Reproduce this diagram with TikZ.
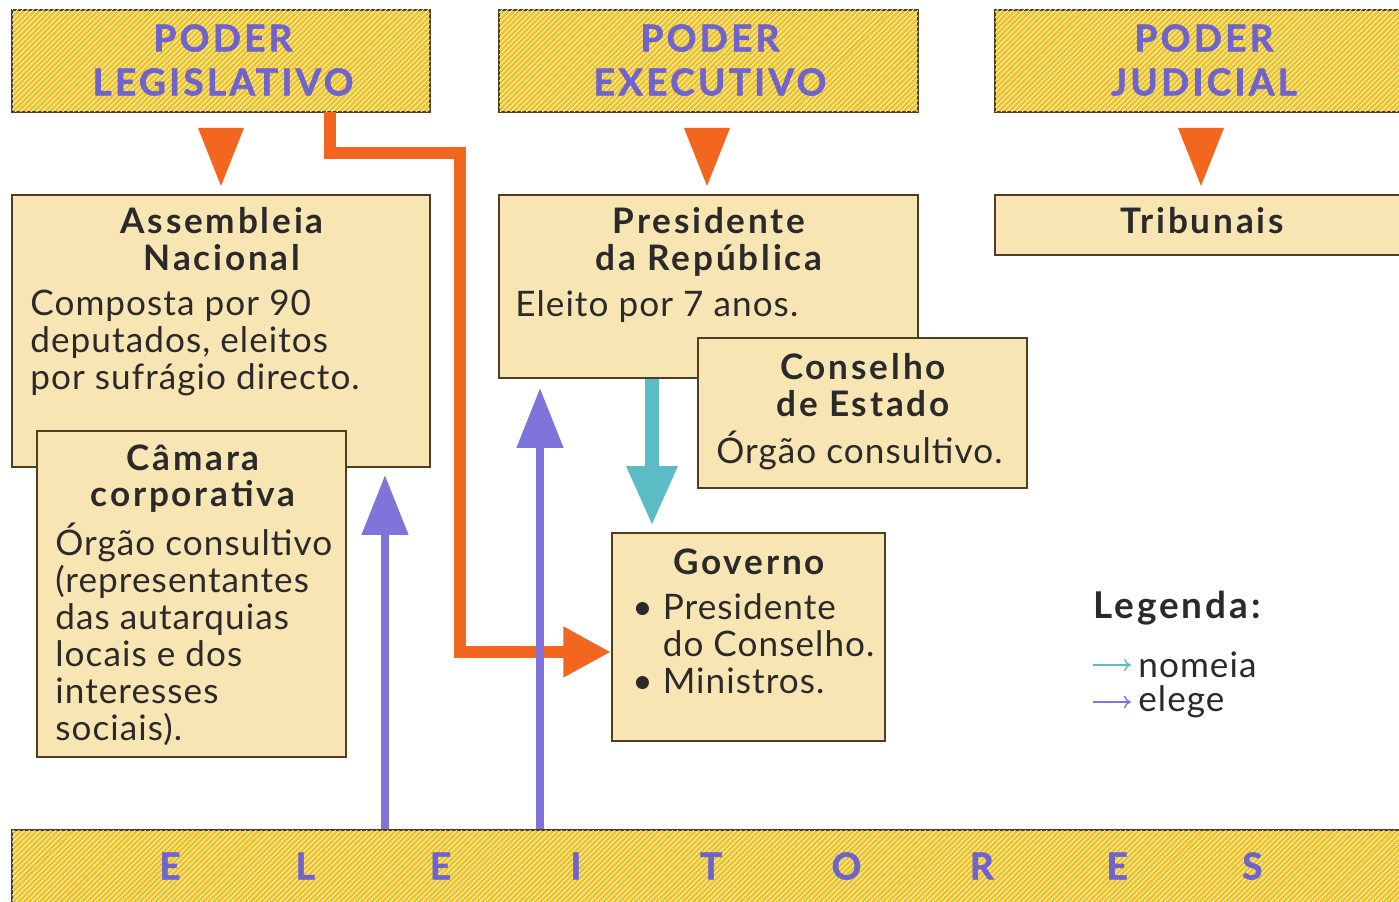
\documentclass[tikz,border=0pt]{standalone}
\usepackage{fontspec}
\setmainfont{Lato}
\newfontfamily\hdrfont[LetterSpace=9,BoldFeatures={FakeBold=1.6}]{Lato}
\newfontfamily\ttlfont[LetterSpace=8]{Lato}
\newfontfamily\bodfont[LetterSpace=3]{Lato}
\usetikzlibrary{arrows.meta,calc,fit,patterns}
\definecolor{hdrYellow}{HTML}{F3C220}
\definecolor{boxBeige}{HTML}{F8E5B4}
\definecolor{boxLine}{HTML}{4E3F22}
\definecolor{nomOrange}{HTML}{F2661F}
\definecolor{elePurple}{HTML}{7F74DA}
\definecolor{txtPurple}{HTML}{6F63CE}
\definecolor{nomTeal}{HTML}{5CBCC6}
\definecolor{txtDark}{HTML}{2A2A2A}
\tikzset{hdr/.style={draw=boxLine,line width=1.3pt,fill=hdrYellow,inner sep=0pt,
    postaction={pattern=north east lines,pattern color=white,fill opacity=0.18}}}
\tikzset{box/.style={draw=boxLine,line width=1.3pt,fill=boxBeige,inner sep=0pt}}
\tikzset{hdrtxt/.style={font=\hdrfont\fontsize{21}{25}\selectfont\bfseries,text=txtPurple,align=center,inner sep=0pt}}
\tikzset{ttl/.style={font=\ttlfont\fontsize{20}{21}\selectfont\bfseries,text=txtDark,align=center,inner sep=0pt,anchor=north}}
\tikzset{bod/.style={font=\bodfont\fontsize{20}{21}\selectfont,text=txtDark,align=left,inner sep=0pt,anchor=north west}}
\tikzset{tri/.style={fill=nomOrange}}
\tikzset{nom/.style={draw=nomOrange,line width=0.24cm,-{Triangle[width=0.95cm,length=0.95cm]}}}
\tikzset{ele/.style={draw=elePurple,line width=0.16cm,-{Triangle[width=0.9cm,length=1.2cm]}}}
\tikzset{nomt/.style={draw=nomTeal,line width=0.28cm,-{Triangle[width=0.95cm,length=1.2cm]}}}

\begin{document}
\begin{tikzpicture}[x=0.02cm,y=-0.02cm,line join=miter]
  \useasboundingbox[fill=white] (0,0) rectangle (1399,902);
  % top row
  \node[hdr,fit={(12,10) (430,112)}] (leg) {};
  \node[hdr,fit={(499,10) (918,112)}] (exe) {};
  \node[hdr,fit={(995,10) (1405,112)}] (jud) {};
  \node[hdrtxt] at (223,60) {PODER\\LEGISLATIVO};
  \node[hdrtxt] at (710,60) {PODER\\EXECUTIVO};
  \node[hdrtxt] at (1204,60) {PODER\\JUDICIAL};
  % organs
  \node[box,fit={(12,195) (430,467)}] (asm) {};
  \node[box,fit={(37,431) (346,757)}] (cam) {};
  \node[box,fit={(499,195) (918,378)}] (pres) {};
  \node[box,fit={(698,338) (1027,488)}] (cons) {};
  \node[box,fit={(995,195) (1405,255)}] (trib) {};
  \node[box,fit={(612,533) (885,741)}] (gov) {};
  \node[hdr,fit={(12,830) (1405,908)}] (elei) {};
  % orange triangles
  \fill[tri] (198,128) -- (244,128) -- (221,186) -- cycle;
  \fill[tri] (684,128) -- (730,128) -- (707,186) -- cycle;
  \fill[tri] (1178,128) -- (1224,128) -- (1201,186) -- cycle;
  % texts
  \node[ttl] at (222,207) {Assembleia\\Nacional};
  \node[bod] at (30,290) {Composta por 90\\deputados, eleitos\\por sufrágio directo.};
  \node[ttl] at (193,444) {Câmara\\corporativa};
  \node[bod] at (55,523) {Órgão consultivo\\(representantes\\das autarquias\\locais e dos\\interesses\\sociais).};
  \node[ttl] at (709,207) {Presidente\\da República};
  \node[bod] at (515,290) {Eleito por 7 anos.};
  \node[ttl] at (863,353) {Conselho\\de Estado};
  \node[bod] at (716,431) {Órgão consultivo.};
  \node[ttl] at (749,548) {Governo};
  \node[bod] at (632,593) {\textbullet\ Presidente\\\phantom{\textbullet\ }do Conselho.\\\textbullet\ Ministros.};
  \node[ttl] at (1202,207) {Tribunais};
  % arrows
  \draw[nom] (330,112) -- (330,153) -- (460,153) -- (460,652) -- (gov.west |- 0,652);
  \draw[ele] (elei.north -| 385,0) -- (385,475);
  \draw[ele] (elei.north -| 540,0) -- (540,388);
  \draw[nomt] (pres.south -| 652,0) -- (652,526);
  % electors
  \foreach \ch [count=\i] in {E,L,E,I,T,O,R,E,S}
    \node[hdrtxt] at ({170+(\i-1)*135.3},866) {\ch};
  % legend
  \node[font=\ttlfont\fontsize{21}{22}\selectfont\bfseries,text=txtDark,anchor=west,inner sep=0pt] (leg0) at (1093,608) {Legenda:};
  \node[bod,anchor=west] (lnom) at (1138,665) {nomeia};
  \node[bod,anchor=west] (lele) at (1138,702) {elege};
  \draw[nomTeal,line width=0.8pt,-{To[length=4pt,width=7pt]}] (1093,665) -- ([xshift=-4pt]lnom.west);
  \draw[elePurple,line width=0.8pt,-{To[length=4pt,width=7pt]}] (1093,702) -- ([xshift=-4pt]lele.west);
\end{tikzpicture}
\end{document}
